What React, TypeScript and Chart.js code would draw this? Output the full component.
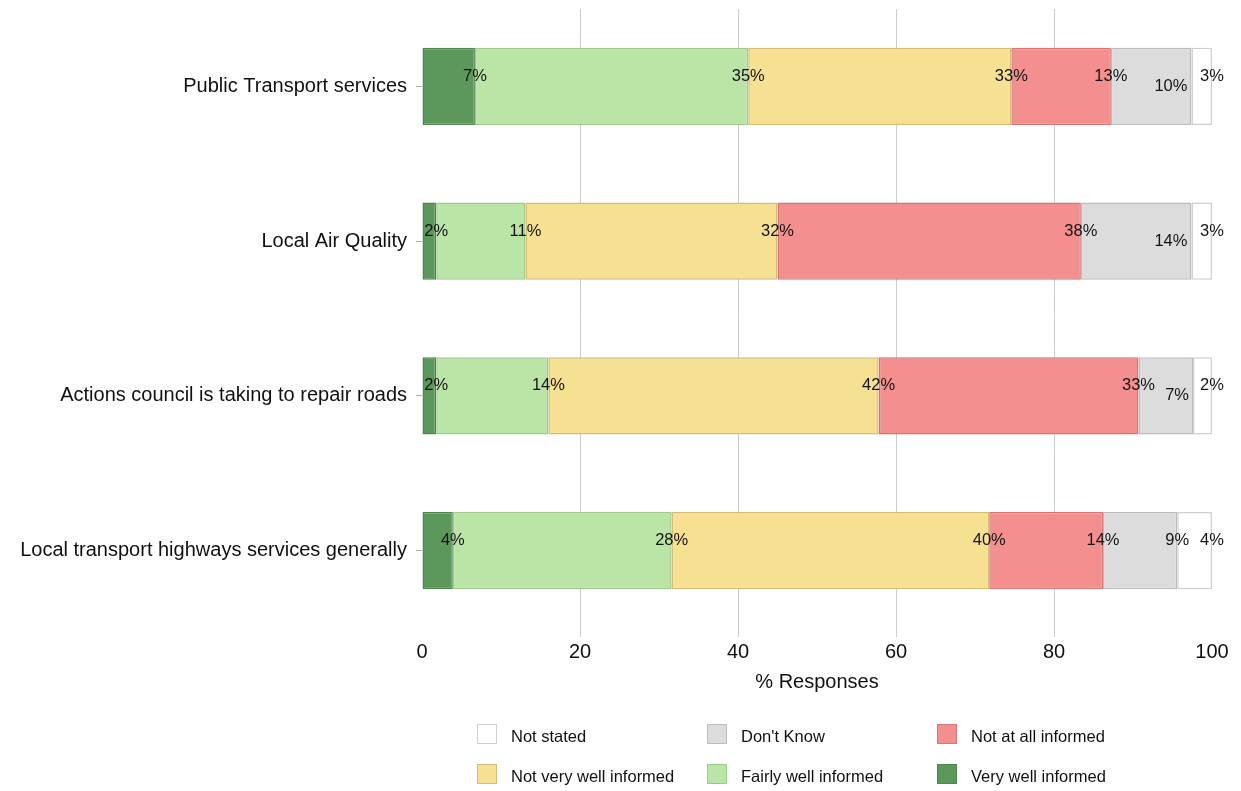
import React, { useEffect, useRef } from "react";
import { Chart, registerables } from "chart.js";

Chart.register(...registerables);

// ---------- data ----------
const categories = [
  "Public Transport services",
  "Local Air Quality",
  "Actions council is taking to repair roads",
  "Local transport highways services generally",
];
const seriesNames = [
  "Very well informed",
  "Fairly well informed",
  "Not very well informed",
  "Not at all informed",
  "Don't Know",
  "Not stated",
];
const veryWell = [6.7, 1.8, 1.8, 3.9];
const fairlyWell = [34.6, 11.3, 14.2, 27.7];
const notVeryWell = [33.3, 31.9, 41.8, 40.2];
const notAtAll = [12.6, 38.4, 32.9, 14.4];
const dontKnow = [10.2, 14.0, 6.9, 9.4];
const notStated = [2.6, 2.6, 2.4, 4.4];
const xTicks = [0, 20, 40, 60, 80, 100];
const xTitle = "% Responses";

// ---------- styles ----------
const fillColors = ["#5C975C", "#BBE4A7", "#F6E092", "#F38F8F", "#DCDCDC", "#FFFFFF"];
const borderColors = ["#4E874E", "#9CCB88", "#D2BC78", "#D47676", "#BDBDBD", "#CFCFCF"];
const FONT = "'Liberation Sans', Arial, Helvetica, sans-serif";
const legendOrder = [5, 4, 3, 2, 1, 0];

const segLabelPlugin = {
  id: "segLabels",
  afterDatasetsDraw(chart: any) {
    const ctx = chart.ctx;
    ctx.save();
    ctx.font = `16.5px ${FONT}`;
    ctx.fillStyle = "#141414";
    ctx.textBaseline = "middle";
    const n = chart.data.datasets.length;
    for (let i = 0; i < chart.data.labels.length; i++) {
      const boxes: any[] = [];
      for (let d = 0; d < n; d++) {
        const el = chart.getDatasetMeta(d).data[i];
        const v = chart.data.datasets[d].data[i] as number;
        const text = Math.round(v) + "%";
        boxes.push({ x: el.x, y: el.y, text, w: ctx.measureText(text).width });
      }
      boxes.forEach((b, d) => {
        const next = boxes[d + 1];
        const crowded = next && b.x + b.w / 2 + 6 > next.x - next.w / 2;
        if (crowded) {
          ctx.textAlign = "right";
          ctx.fillText(b.text, b.x - 4, b.y);
        } else {
          ctx.textAlign = "center";
          ctx.fillText(b.text, b.x, b.y - 10);
        }
      });
    }
    ctx.restore();
  },
};

export default function App() {
  const canvasRef = useRef<HTMLCanvasElement | null>(null);

  useEffect(() => {
    const series = [veryWell, fairlyWell, notVeryWell, notAtAll, dontKnow, notStated];
    const chart = new Chart(canvasRef.current as HTMLCanvasElement, {
      type: "bar",
      data: {
        labels: categories,
        datasets: series.map((data, k) => ({
          label: seriesNames[k],
          data,
          backgroundColor: fillColors[k],
          borderColor: borderColors[k],
          borderWidth: 1.5,
          borderSkipped: false,
          categoryPercentage: 0.5,
          barPercentage: 1,
        })),
      },
      options: {
        indexAxis: "y",
        responsive: false,
        animation: false,
        devicePixelRatio: 1,
        layout: { padding: { left: 0, right: 29, top: 9, bottom: 83 } },
        plugins: {
          legend: { display: false },
          tooltip: { enabled: false },
        },
        scales: {
          x: {
            stacked: true,
            min: 0,
            max: 100,
            afterBuildTicks: (scale: any) => {
              scale.ticks = xTicks.map((v) => ({ value: v }));
            },
            afterFit: (scale: any) => {
              scale.height = 80;
            },
            grid: {
              color: (c: any) =>
                c.tick && (c.tick.value === 0 || c.tick.value === 100) ? "rgba(0,0,0,0)" : "#CCCCCC",
              lineWidth: 1,
              drawTicks: true,
              tickLength: 9,
            },
            border: { display: false },
            ticks: {
              padding: 3,
              color: "#111111",
              font: { family: FONT, size: 20 },
            },
            title: {
              display: true,
              text: xTitle,
              color: "#111111",
              font: { family: FONT, size: 20 },
              padding: { top: 0, bottom: 14 },
            },
          },
          y: {
            stacked: true,
            afterFit: (scale: any) => {
              scale.width = 422;
              scale.paddingTop = 0;
              scale.paddingBottom = 0;
            },
            grid: {
              offset: false,
              drawOnChartArea: false,
              drawTicks: true,
              tickLength: 6,
              color: "#AAAAAA",
            },
            border: { display: false },
            ticks: {
              padding: 9,
              color: "#111111",
              font: { family: FONT, size: 20 },
            },
          },
        },
      },
      plugins: [segLabelPlugin],
    } as any);
    return () => chart.destroy();
  }, []);

  return (
    <div style={{ position: "absolute", left: 0, top: 0, width: 1241, height: 791, background: "#fff" }}>
      <canvas ref={canvasRef} width={1241} height={791} style={{ display: "block", width: 1241, height: 791 }} />
      {legendOrder.map((k, idx) => {
        const col = idx % 3;
        const row = Math.floor(idx / 3);
        return (
          <div
            key={k}
            style={{
              position: "absolute",
              left: 477 + col * 230,
              top: 724 + row * 40,
              height: 20,
              display: "flex",
              alignItems: "center",
              fontFamily: FONT,
              fontSize: 16.5,
              color: "#111111",
              whiteSpace: "nowrap",
            }}
          >
            <span
              style={{
                display: "inline-block",
                width: 20,
                height: 20,
                boxSizing: "border-box",
                background: fillColors[k],
                border: `1.5px solid ${borderColors[k]}`,
                marginRight: 14,
              }}
            />
            <span style={{ position: "relative", top: 2 }}>{seriesNames[k]}</span>
          </div>
        );
      })}
    </div>
  );
}
